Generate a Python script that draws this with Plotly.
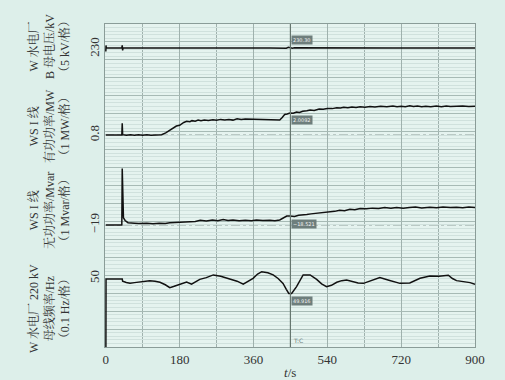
import plotly.graph_objects as go

# ---------------- data ----------------
x_ticks = [0, 180, 360, 540, 720, 900]
cursor_t = 450

# bus voltage (kV)
t_volt = [0, 0.5, 1, 38, 39, 40, 41, 42, 100, 160, 200, 250, 300, 350, 400, 430, 440, 445, 450, 455, 460, 520, 600, 700, 800, 900]
v_volt = [229.3, 231.0, 230.3, 230.3, 230.3, 231.0, 229.6, 230.3, 230.25, 230.3, 230.35, 230.3, 230.25, 230.3, 230.3, 230.35, 230.2, 230.45, 230.3, 230.2, 230.35, 230.3, 230.25, 230.3, 230.3, 230.3]

# active power (MW)
t_p = [0, 38, 39, 40, 41, 50, 60, 70, 80, 90, 100, 110, 120, 136, 146, 156, 164, 172, 180, 190, 197, 205, 210, 218, 225, 232, 240, 250, 261, 270, 280, 290, 300, 310, 320, 330, 340, 351, 360, 370, 380, 390, 400, 410, 424, 430, 436, 442, 449, 457, 465, 472, 480, 490, 498, 508, 520, 530, 540, 552, 563, 572, 580, 590, 600, 610, 620, 632, 644, 656, 670, 685, 700, 710, 720, 730, 741, 750, 760, 770, 780, 792, 806, 818, 830, 840, 850, 860, 870, 885, 900]
v_p = [0.8, 0.8, 0.8, 1.45, 0.82, 0.79, 0.81, 0.78, 0.82, 0.79, 0.81, 0.78, 0.81, 0.82, 0.92, 1.08, 1.2, 1.3, 1.34, 1.5, 1.56, 1.54, 1.6, 1.57, 1.63, 1.6, 1.63, 1.61, 1.65, 1.62, 1.67, 1.64, 1.67, 1.63, 1.7, 1.66, 1.69, 1.68, 1.71, 1.66, 1.69, 1.65, 1.67, 1.64, 1.64, 1.78, 1.94, 1.97, 2.02, 2.01, 2.08, 2.06, 2.12, 2.15, 2.19, 2.17, 2.25, 2.23, 2.28, 2.27, 2.32, 2.3, 2.35, 2.32, 2.36, 2.33, 2.37, 2.35, 2.39, 2.36, 2.4, 2.37, 2.42, 2.38, 2.4, 2.37, 2.43, 2.39, 2.41, 2.38, 2.4, 2.37, 2.41, 2.38, 2.42, 2.39, 2.4, 2.38, 2.41, 2.39, 2.4]

# reactive power (Mvar)
t_q = [0, 38, 39, 40, 41.5, 43, 47, 54, 70, 80, 100, 115, 130, 145, 156, 170, 180, 195, 205, 218, 230, 245, 260, 273, 286, 298, 310, 325, 340, 355, 367, 383, 400, 412, 424, 432, 441, 449, 460, 470, 481, 490, 500, 510, 520, 533, 546, 558, 570, 582, 595, 607, 620, 635, 650, 665, 680, 695, 709, 725, 740, 755, 770, 790, 806, 822, 840, 855, 870, 885, 900]
v_q = [-19.0, -19.0, -19.0, -15.85, -18.2, -18.6, -18.75, -18.87, -18.9, -18.92, -18.9, -18.93, -18.9, -18.92, -18.88, -18.86, -18.85, -18.8, -18.78, -18.8, -18.74, -18.78, -18.72, -18.76, -18.7, -18.75, -18.72, -18.76, -18.73, -18.76, -18.72, -18.75, -18.73, -18.76, -18.72, -18.6, -18.5, -18.5, -18.53, -18.46, -18.45, -18.42, -18.38, -18.36, -18.32, -18.3, -18.26, -18.24, -18.18, -18.2, -18.12, -18.15, -18.08, -18.1, -18.06, -18.08, -18.03, -18.07, -18.02, -18.06, -18.03, -18.0, -18.05, -18.01, -18.04, -18.0, -18.03, -18.01, -18.04, -18.0, -18.02]

# bus frequency (Hz)
t_f = [0, 0.5, 40, 41, 50, 59, 70, 83, 95, 107, 120, 132, 145, 156, 165, 172, 185, 197, 209, 220, 229, 245, 262, 280, 302, 320, 335, 348, 359, 370, 380, 395, 408, 420, 432, 440, 446, 453, 465, 481, 498, 514, 526, 538, 550, 563, 575, 587, 600, 615, 628, 648, 668, 690, 717, 741, 755, 766, 790, 812, 835, 845, 855, 870, 888, 900]
v_f = [49.4, 49.997, 49.997, 49.985, 49.978, 49.973, 49.977, 49.98, 49.985, 49.988, 49.985, 49.979, 49.965, 49.949, 49.955, 49.96, 49.972, 49.98, 49.968, 49.985, 49.995, 50.005, 50.02, 50.012, 49.999, 49.985, 49.968, 49.985, 50.001, 50.025, 50.038, 50.032, 50.02, 50.0, 49.973, 49.94, 49.917, 49.917, 49.955, 50.02, 50.02, 49.995, 49.97, 49.954, 49.962, 49.979, 49.988, 49.992, 49.985, 49.975, 49.973, 49.99, 50.005, 49.99, 49.973, 49.975, 49.99, 50.001, 50.014, 50.012, 50.018, 50.0, 49.988, 49.983, 49.977, 49.968]

# axis reference values, scale per grid division, cursor readings
ref_vals = [230, 0.8, -19, 50]
ref_text = ["230", "0.8", "−19", "50"]
per_div = [5, 1, 1, 0.1]
cursor_text = ["230.30", "2.0092", "−18.521", "49.916"]
titles = [
    "W 水电厂<br>B 母电压/kV<br>（5 kV/格）",
    "WS I 线<br>有功功率/MW<br>（1 MW/格）",
    "WS I 线<br>无功功率/Mvar<br>（1 Mvar/格）",
    "W 水电厂 220 kV<br>母线频率/Hz<br>（0.1 Hz/格）",
]
x_title = "<i>t</i>/s"

# ---------------- layout geometry ----------------
W, H = 505, 380
ML, MR, MT, MB = 105, 30, 24, 33
n_div = 18
plot_h = H - MT - MB
div_px = plot_h / n_div
ref_pix = [49, 135, 225, 278.5]          # pixel rows of the reference values
title_pix = [47, 126, 211, 309]          # pixel rows of the title centres
ref_pos = [(H - MB - p) / div_px for p in ref_pix]

SERIF = "Liberation Serif, Noto Serif CJK SC, Noto Sans CJK SC, serif"
TXT = "#333333"
MAJ = "#a7bab5"
MIN = "#d0e1dd"

fig = go.Figure()
# invisible trace so that the base (grid) subplot exists
fig.add_trace(go.Scatter(x=[0], y=[0], mode="lines", yaxis="y", showlegend=False,
                         hoverinfo="skip", line=dict(width=0)))
series = [(t_volt, v_volt), (t_p, v_p), (t_q, v_q), (t_f, v_f)]
for i, (tt, vv) in enumerate(series):
    fig.add_trace(go.Scatter(x=tt, y=vv, mode="lines", yaxis=f"y{i+2}",
                             line=dict(color="#111111", width=1.5), showlegend=False,
                             hoverinfo="skip"))

layout = dict(
    width=W, height=H,
    margin=dict(l=ML, r=MR, t=MT, b=MB, autoexpand=False),
    paper_bgcolor="#ddefea",
    plot_bgcolor="#e5f3ef",
    showlegend=False,
    xaxis=dict(range=[-2, 900], tickvals=x_ticks, ticktext=[str(v) for v in x_ticks],
               showgrid=True, gridcolor="#9fb1ad", gridwidth=1, automargin=False,
               minor=dict(dtick=90, tick0=0, showgrid=True, gridcolor="#9fb1ad", gridwidth=1),
               showline=True, linecolor="#8a9c98", mirror=True, zeroline=False,
               ticks="", tickfont=dict(family=SERIF, size=13, color=TXT)),
    yaxis=dict(range=[0, n_div], dtick=1, tick0=0, showticklabels=False, ticks="",
               showgrid=True, gridcolor=MAJ, gridwidth=1, zeroline=False, automargin=False,
               minor=dict(dtick=0.2, showgrid=True, gridcolor=MIN, gridwidth=1),
               showline=True, linecolor="#8a9c98", mirror=True),
)
for i in range(4):
    lo = ref_vals[i] - ref_pos[i] * per_div[i]
    hi = ref_vals[i] + (n_div - ref_pos[i]) * per_div[i]
    layout[f"yaxis{i+2}"] = dict(
        range=[lo, hi], overlaying="y", anchor="x", side="left", automargin=False,
        showgrid=False, zeroline=False, showline=False,
        tickvals=[ref_vals[i]], ticktext=[ref_text[i]], ticks="",
        ticklabelstandoff=2,
        tickangle=-90, tickfont=dict(family=SERIF, size=13, color=TXT),
    )
fig.update_layout(**layout)

# dashed reference lines
for i in [1, 2, 3]:
    fig.add_shape(type="line", xref="paper", x0=0, x1=1, yref=f"y{i+2}",
                  y0=ref_vals[i], y1=ref_vals[i],
                  line=dict(color="#8f9f9b", width=1, dash="dashdot"), layer="below")

# cursor line
fig.add_shape(type="line", xref="x", x0=cursor_t, x1=cursor_t, yref="paper", y0=0, y1=1,
              line=dict(color="#66766f", width=1.2))

# cursor readouts
cur_y = [231.2, 1.9, -18.65, 49.905]
cur_anchor = ["bottom", "top", "top", "top"]
for i in range(4):
    fig.add_annotation(x=cursor_t, y=cur_y[i], xref="x", yref=f"y{i+2}",
                       text=cursor_text[i], showarrow=False, xanchor="left", yanchor=cur_anchor[i],
                       xshift=1, font=dict(family="DejaVu Sans", size=5, color="#f2f2f2"),
                       bgcolor="#6e7e7c", borderpad=1)
fig.add_annotation(x=cursor_t, y=0, xref="x", yref="paper", text="T:C", showarrow=False,
                   xanchor="left", yanchor="bottom", xshift=1, yshift=1,
                   font=dict(family="DejaVu Sans", size=6, color="#6e7e7c"))

# x-axis title
fig.add_annotation(xref="paper", yref="paper", x=0.5, y=0, yshift=-25, text=x_title,
                   showarrow=False, xanchor="center", yanchor="middle",
                   font=dict(family=SERIF, size=13, color=TXT))

# rotated axis titles
for i in range(4):
    fig.add_annotation(xref="paper", yref="paper", x=0, y=(H - MB - title_pix[i]) / plot_h,
                       xshift=49 - ML, text=titles[i], showarrow=False, textangle=-90,
                       xanchor="center", yanchor="middle", align="center",
                       font=dict(family=SERIF, size=12, color=TXT))

fig.write_html("out.html", config={"displayModeBar": False},
               post_script="document.body.style.margin='0';document.body.style.overflow='hidden';document.body.style.background='#ddefea';")
